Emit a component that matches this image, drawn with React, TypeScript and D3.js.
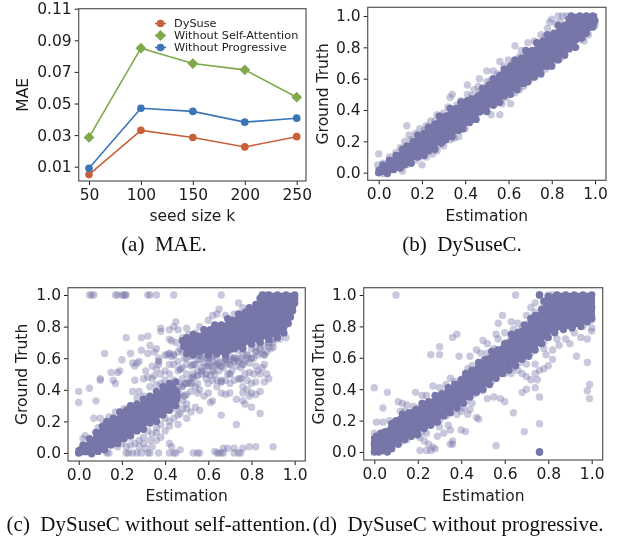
import React, { useEffect, useRef } from "react";
import * as d3 from "d3";

const seedSizes = [50, 100, 150, 200, 250];
const maeTicks = [0.01, 0.03, 0.05, 0.07, 0.09, 0.11];
const dySuse = [0.005, 0.033, 0.0285, 0.0225, 0.029];
const withoutSelfAttention = [0.0285, 0.085, 0.0753, 0.0713, 0.054];
const withoutProgressive = [0.009, 0.047, 0.045, 0.0382, 0.0407];
const unitTicks = [0, 0.2, 0.4, 0.6, 0.8, 1];

// Overplotted cores of the scatters, too dense to read single points: [estimation, low, high]
const coreB = [
  [-0.015, -0.015, 0.03], [0.04, -0.015, 0.07], [0.1, 0.025, 0.14], [0.15, 0.07, 0.2], [0.2, 0.11, 0.26], [0.25, 0.15, 0.32], [0.3, 0.2, 0.37], [0.35, 0.24, 0.42], [0.4, 0.29, 0.46],
  [0.45, 0.35, 0.5], [0.5, 0.4, 0.57], [0.55, 0.45, 0.63], [0.6, 0.5, 0.69], [0.65, 0.54, 0.74], [0.7, 0.59, 0.78], [0.75, 0.64, 0.84], [0.8, 0.69, 0.89], [0.85, 0.74, 0.95], [0.9, 0.8, 1.01], [0.95, 0.87, 1.015], [1.01, 0.94, 1.015],
];
const coreC = [
  [-0.015, -0.015, 0.03], [0.05, -0.015, 0.08], [0.1, 0.01, 0.16], [0.15, 0.04, 0.21], [0.2, 0.07, 0.26], [0.25, 0.12, 0.3], [0.3, 0.16, 0.33], [0.35, 0.2, 0.38], [0.4, 0.24, 0.42], [0.44, 0.28, 0.44], [0.47, 0.33, 0.4],
];
const coreCUpper = [
  [0.47, 0.66, 0.7], [0.52, 0.63, 0.74], [0.6, 0.63, 0.78], [0.65, 0.62, 0.81], [0.7, 0.63, 0.84], [0.75, 0.66, 0.88], [0.8, 0.7, 0.92], [0.84, 0.7, 0.98], [0.86, 0.72, 1.015],
  [0.92, 0.74, 1.015], [0.96, 0.77, 1.015], [1.015, 0.95, 1.015],
];
const coreD = [
  [-0.015, -0.015, 0.1], [0.05, -0.015, 0.14], [0.08, 0.02, 0.19], [0.12, 0.06, 0.24], [0.2, 0.12, 0.29], [0.25, 0.16, 0.33], [0.3, 0.2, 0.37], [0.35, 0.26, 0.42], [0.4, 0.3, 0.47], [0.45, 0.36, 0.53], [0.5, 0.41, 0.59],
  [0.55, 0.46, 0.64], [0.6, 0.51, 0.7], [0.65, 0.56, 0.76], [0.7, 0.6, 0.82], [0.76, 0.68, 0.9], [0.8, 0.74, 0.99], [0.83, 0.77, 1.015], [0.92, 0.79, 1.015], [1.015, 0.84, 1.015],
];

// Stacked points along the rim of each core
const stackB = [
  [0.02, 0.05], [0.05, 0.08], [0.08, 0.11], [0.11, 0.15], [0.13, 0.17], [0.16, 0.2], [0.18, 0.24], [0.21, 0.25], [0.23, 0.29], [0.26, 0.31], [0.28, 0.36], [0.31, 0.36], [0.33, 0.41], [0.36, 0.41], [0.38, 0.45], [0.41, 0.46], [0.43, 0.47], [0.46, 0.49],
  [0.48, 0.54], [0.51, 0.56], [0.53, 0.6], [0.56, 0.62], [0.58, 0.66], [0.61, 0.68], [0.63, 0.72], [0.66, 0.73], [0.68, 0.78], [0.71, 0.78], [0.73, 0.83], [0.76, 0.84], [0.78, 0.88], [0.81, 0.89], [0.83, 0.94], [0.86, 0.94], [0.88, 0.98], [0.91, 0.99],
  [0.04, -0.005], [0.07, 0.02], [0.1, 0.03], [0.12, 0.05], [0.15, 0.06], [0.18, 0.1], [0.21, 0.11], [0.23, 0.14], [0.26, 0.15], [0.29, 0.19], [0.31, 0.21], [0.34, 0.23], [0.37, 0.27], [0.39, 0.28], [0.42, 0.32], [0.45, 0.34], [0.47, 0.39], [0.5, 0.39],
  [0.53, 0.43], [0.56, 0.45], [0.58, 0.49], [0.61, 0.5], [0.64, 0.53], [0.67, 0.57], [0.69, 0.58], [0.72, 0.61], [0.75, 0.63], [0.78, 0.68], [0.8, 0.68], [0.83, 0.72], [0.86, 0.75], [0.88, 0.79], [0.91, 0.8], [0.94, 0.86], [0.96, 0.89], [0.99, 0.93],
  [0, 0], [0.89, 1], [0.93, 1], [0.96, 1], [0.99, 1], [1, 0.97],
];
const stackC = [
  [0.02, 0.05], [0.05, 0.09], [0.08, 0.13], [0.11, 0.17], [0.13, 0.2], [0.16, 0.22], [0.19, 0.26], [0.22, 0.27], [0.24, 0.3], [0.27, 0.31], [0.3, 0.34], [0.33, 0.36], [0.36, 0.39], [0.39, 0.42], [0.42, 0.44], [0.45, 0.45],
  [0.06, -0.005], [0.09, 0.01], [0.12, 0.02], [0.15, 0.05], [0.18, 0.06], [0.21, 0.09], [0.24, 0.11], [0.27, 0.14], [0.3, 0.15], [0.33, 0.19], [0.36, 0.2], [0.39, 0.24], [0.42, 0.27], [0.45, 0.3],
  [0.48, 0.71], [0.5, 0.73], [0.53, 0.75], [0.55, 0.74], [0.58, 0.78], [0.61, 0.78], [0.63, 0.81], [0.66, 0.81], [0.69, 0.85], [0.71, 0.84], [0.74, 0.88], [0.77, 0.89], [0.79, 0.92], [0.82, 0.94], [0.84, 0.98], [0.85, 1],
  [0.5, 0.63], [0.53, 0.62], [0.56, 0.64], [0.6, 0.62], [0.64, 0.63], [0.68, 0.62], [0.72, 0.66], [0.76, 0.66], [0.8, 0.69], [0.84, 0.7], [0.88, 0.72], [0.92, 0.73], [0.95, 0.76], [0.97, 0.82], [0.98, 0.86], [0.99, 0.9], [1, 0.95], [1, 0.98],
  [0, 0], [0.88, 1], [0.92, 1], [0.96, 1], [1, 1],
];
const stackD = [
  [0.01, 0.1], [0.03, 0.12], [0.05, 0.13], [0.08, 0.18], [0.1, 0.2], [0.13, 0.24], [0.16, 0.25], [0.19, 0.27], [0.22, 0.31], [0.25, 0.32], [0.28, 0.36], [0.31, 0.37], [0.34, 0.41], [0.37, 0.43], [0.4, 0.46], [0.42, 0.5], [0.45, 0.52], [0.48, 0.57],
  [0.51, 0.59], [0.54, 0.64], [0.57, 0.65], [0.6, 0.69], [0.63, 0.75], [0.66, 0.76], [0.69, 0.81], [0.72, 0.85], [0.74, 0.87], [0.77, 0.91], [0.78, 0.96], [0.8, 0.99],
  [0.06, 0], [0.08, 0.02], [0.11, 0.05], [0.14, 0.08], [0.17, 0.1], [0.2, 0.11], [0.23, 0.15], [0.26, 0.17], [0.29, 0.19], [0.32, 0.23], [0.35, 0.25], [0.38, 0.28], [0.41, 0.31], [0.44, 0.35], [0.47, 0.38], [0.5, 0.4],
  [0.53, 0.43], [0.56, 0.47], [0.59, 0.5], [0.62, 0.52], [0.65, 0.55], [0.68, 0.59], [0.71, 0.61], [0.74, 0.65], [0.77, 0.69], [0.8, 0.73], [0.83, 0.76], [0.87, 0.78], [0.91, 0.79], [0.95, 0.8], [0.98, 0.83], [1, 0.85],
  [0, 0], [0, 0.05], [0.02, 0], [0.76, 1], [0.76, 0], [0.84, 1], [0.88, 1], [0.92, 1], [0.96, 1], [1, 1], [1, 0.92],
];
// Darker lanes in the middle of (c), partly stacked
const laneC = [
  [0.46, 0.36], [0.48, 0.42], [0.49, 0.36], [0.5, 0.44], [0.52, 0.44], [0.53, 0.48], [0.55, 0.49], [0.57, 0.52], [0.59, 0.5], [0.6, 0.55], [0.62, 0.52], [0.64, 0.56], [0.66, 0.55], [0.68, 0.59], [0.7, 0.56], [0.72, 0.6], [0.74, 0.58], [0.76, 0.56],
  [0.78, 0.62], [0.8, 0.6], [0.82, 0.64], [0.84, 0.66], [0.86, 0.62], [0.88, 0.7], [0.9, 0.72], [0.53, 0.56], [0.56, 0.62], [0.6, 0.6], [0.63, 0.62], [0.47, 0.53], [0.42, 0.63], [0.44, 0.62], [0.37, 0.58], [0.66, 0.45], [0.7, 0.5], [0.75, 0.47],
];

const pointsB = [
  [-0.005, 0.05], [0, 0.12], [0.02, 0.06], [0.05, 0.1], [0.08, 0.13], [0.1, 0.16], [0.12, 0.2], [0.14, 0.24], [0.13, 0.3], [0.17, 0.25], [0.19, 0.28],
  [0.22, 0.3], [0.24, 0.33], [0.27, 0.37], [0.3, 0.38], [0.32, 0.42], [0.33, 0.48], [0.34, 0.5], [0.38, 0.46], [0.41, 0.5], [0.41, 0.56], [0.44, 0.53],
  [0.46, 0.55], [0.465, 0.6], [0.5, 0.58], [0.5, 0.65], [0.53, 0.65], [0.56, 0.71], [0.58, 0.68], [0.6, 0.72], [0.63, 0.81], [0.66, 0.78], [0.69, 0.83],
  [0.72, 0.84], [0.75, 0.88], [0.78, 0.92], [0.79, 0.96], [0.8, 0.98], [0.83, 1], [0.85, 1], [0.87, 1], [0.82, 0.95], [0.02, -0.005], [0.06, 0.02],
  [0.11, 0.01], [0.13, 0.05], [0.17, 0.08], [0.2, 0.05], [0.22, 0.1], [0.25, 0.12], [0.27, 0.14], [0.3, 0.17], [0.3, 0.2], [0.35, 0.22], [0.37, 0.23],
  [0.38, 0.29], [0.42, 0.33], [0.46, 0.38], [0.5, 0.42], [0.52, 0.37], [0.56, 0.37], [0.57, 0.44], [0.61, 0.44], [0.63, 0.51], [0.67, 0.55], [0.7, 0.6],
  [0.73, 0.63], [0.75, 0.68], [0.78, 0.7], [0.82, 0.72], [0.85, 0.77], [0.88, 0.82], [0.95, 0.84], [0.97, 0.88], [1, 0.94], [0.15, 0.21], [0.21, 0.27],
  [0.26, 0.33], [0.29, 0.36], [0.36, 0.43], [0.39, 0.45], [0.43, 0.49], [0.47, 0.52], [0.52, 0.59], [0.55, 0.63], [0.62, 0.7], [0.65, 0.74], [0.68, 0.77],
  [0.74, 0.83], [0.77, 0.87], [0.84, 0.96], [0.15, 0.06], [0.19, 0.1], [0.24, 0.14], [0.28, 0.18], [0.33, 0.21], [0.4, 0.28], [0.44, 0.34], [0.48, 0.4],
  [0.54, 0.44], [0.59, 0.48], [0.65, 0.53], [0.69, 0.58], [0.72, 0.61], [0.77, 0.66], [0.8, 0.69], [0.84, 0.73], [0.9, 0.8], [0.93, 0.85], [0.98, 0.93],
];

const pointsC = [
  [0.05, 1], [0.06, 1], [0.07, 1], [0.17, 1], [0.18, 1], [0.2, 1], [0.21, 1], [0.215, 1], [0.22, 1], [0.32, 1], [0.33, 1], [0.36, 1], [0.44, 1], [0.66, 1],
  [0.13, 0], [0.14, 0], [0.22, 0], [0.23, 0], [0.25, 0], [0.27, 0], [0.29, 0], [0.32, 0], [0.33, 0], [0.37, 0], [0.42, 0], [0.44, 0], [0.45, 0], [0.53, 0],
  [0.55, 0], [0.56, 0], [0.64, 0], [0.65, 0], [0.66, 0], [0.67, 0], [0.72, 0], [0.74, 0], [0.75, 0], [0.42, 0.06], [0.43, 0.04], [0.47, 0.02], [0.63, 0.01],
  [0.67, 0.03], [0.69, 0.03], [0.72, 0.03], [0.76, 0.03], [0.79, 0.04], [0.82, 0.04], [0.9, 0.04], [0, 0.39], [0, 0.32], [0.05, 0.41], [0.08, 0.33], [0.1, 0.46],
  [0.1, 0.47], [0.12, 0.63], [0.15, 0.51], [0.16, 0.46], [0.17, 0.44], [0.18, 0.51], [0.19, 0.52], [0.2, 0.59], [0.22, 0.73], [0.24, 0.63], [0.25, 0.57],
  [0.26, 0.55], [0.26, 0.46], [0.27, 0.57], [0.28, 0.58], [0.29, 0.65], [0.29, 0.73], [0.32, 0.63], [0.32, 0.74], [0.31, 0.52], [0.3, 0.47], [0.33, 0.68],
  [0.35, 0.64], [0.36, 0.66], [0.38, 0.79], [0.38, 0.77], [0.37, 0.6], [0.34, 0.55], [0.35, 0.49], [0.37, 0.56], [0.4, 0.62], [0.41, 0.62], [0.43, 0.61],
  [0.42, 0.72], [0.42, 0.78], [0.44, 0.8], [0.45, 0.83], [0.46, 0.78], [0.43, 0.71], [0.45, 0.7], [0.46, 0.64], [0.47, 0.66], [0.48, 0.73], [0.49, 0.6],
  [0.5, 0.7], [0.51, 0.75], [0.52, 0.68], [0.53, 0.72], [0.54, 0.76], [0.56, 0.8], [0.58, 0.78], [0.6, 0.84], [0.62, 0.87], [0.64, 0.88], [0.65, 0.91],
  [0.68, 0.87], [0.72, 0.88], [0.74, 0.95], [0.76, 0.92], [0.78, 0.9], [0.84, 0.97], [0.86, 1], [0.88, 1], [0.48, 0.47], [0.5, 0.5], [0.52, 0.55], [0.54, 0.56],
  [0.56, 0.59], [0.58, 0.57], [0.6, 0.62], [0.62, 0.58], [0.64, 0.6], [0.66, 0.64], [0.68, 0.6], [0.7, 0.61], [0.72, 0.58], [0.74, 0.65], [0.76, 0.62],
  [0.78, 0.6], [0.8, 0.66], [0.82, 0.67], [0.84, 0.7], [0.86, 0.68], [0.88, 0.74], [0.9, 0.7], [0.52, 0.47], [0.55, 0.44], [0.57, 0.5], [0.59, 0.47], [0.61, 0.49],
  [0.63, 0.5], [0.65, 0.52], [0.67, 0.54], [0.69, 0.5], [0.71, 0.52], [0.73, 0.55], [0.75, 0.54], [0.77, 0.5], [0.79, 0.51], [0.81, 0.5], [0.83, 0.52], [0.85, 0.54],
  [0.87, 0.5], [0.72, 0.46], [0.74, 0.47], [0.76, 0.42], [0.78, 0.4], [0.8, 0.38], [0.82, 0.37], [0.84, 0.39], [0.86, 0.45], [0.88, 0.47], [0.82, 0.45], [0.66, 0.38],
  [0.68, 0.37], [0.7, 0.38], [0.62, 0.33], [0.61, 0.32], [0.58, 0.36], [0.56, 0.4], [0.54, 0.42], [0.73, 0.34], [0.76, 0.33], [0.77, 0.31], [0.8, 0.29], [0.84, 0.25],
  [0.66, 0.24], [0.73, 0.18], [0.5, 0.22], [0.52, 0.26], [0.54, 0.29], [0.56, 0.27], [0.5, 0.31], [0.47, 0.37], [0.45, 0.28], [0.46, 0.24], [0.44, 0.22],
  [0.46, 0.18], [0.42, 0.2], [0.4, 0.22], [0.38, 0.18], [0.36, 0.16], [0.34, 0.12], [0.32, 0.14], [0.3, 0.1], [0.28, 0.08], [0.26, 0.06], [0.24, 0.1], [0.22, 0.04],
  [0.36, 0.08], [0.38, 0.1], [0.4, 0.14], [0.28, 0.16], [0.26, 0.14], [0.2, 0.06], [0.18, 0.04], [0.16, 0.06], [0.12, 0.02], [0.1, 0.22], [0.07, 0.22], [0.09, 0.16],
  [0.12, 0.18], [0.03, 0.11], [0.02, 0.09], [0.14, 0.23], [0.17, 0.26], [0.21, 0.28], [0.23, 0.28], [0.27, 0.35], [0.25, 0.39], [0.28, 0.39], [0.3, 0.36],
  [0.33, 0.42], [0.36, 0.43], [0.38, 0.44], [0.4, 0.46], [0.42, 0.5], [0.44, 0.46], [0.46, 0.52], [0.96, 0.73], [0.93, 0.72], [0.91, 0.76], [0.88, 0.67], [0.7, 0.78],
  [0.6, 0.7], [0.58, 0.73], [0.5, 0.79], [0.48, 0.64], [0.62, 0.67], [0.68, 0.66],
  [0.47, 0.43], [0.49, 0.44], [0.51, 0.45], [0.53, 0.5], [0.55, 0.52], [0.57, 0.54], [0.59, 0.55], [0.61, 0.56], [0.63, 0.55], [0.65, 0.57], [0.67, 0.58], [0.69, 0.57],
  [0.71, 0.59], [0.73, 0.6], [0.75, 0.6], [0.77, 0.58], [0.79, 0.57], [0.81, 0.6], [0.83, 0.62], [0.85, 0.63], [0.87, 0.64], [0.89, 0.66], [0.55, 0.59], [0.57, 0.61],
  [0.59, 0.6], [0.61, 0.6], [0.52, 0.61], [0.54, 0.64], [0.5, 0.6], [0.5, 0.56], [0.48, 0.54], [0.46, 0.58], [0.44, 0.56], [0.42, 0.56], [0.4, 0.52], [0.38, 0.5], [0.36, 0.53],
  [0.34, 0.47], [0.32, 0.48], [0.6, 0.44], [0.62, 0.46], [0.64, 0.46], [0.66, 0.46], [0.68, 0.46], [0.7, 0.44], [0.64, 0.42], [0.6, 0.38], [0.55, 0.38], [0.52, 0.39], [0.5, 0.37],
  [0.48, 0.33], [0.5, 0.28], [0.48, 0.28], [0.47, 0.25], [0.42, 0.17], [0.36, 0.13], [0.33, 0.08], [0.3, 0.06], [0.28, 0.04], [0.24, 0.05], [0.31, 0.03], [0.34, 0.04],
  [0.82, 0.55], [0.84, 0.5], [0.86, 0.56], [0.78, 0.46], [0.8, 0.44], [0.76, 0.38], [0.79, 0.36], [0.9, 0.67], [0.94, 0.76], [0.98, 0.86], [0.99, 0.9],
];

const pointsD = [
  [0.1, 1], [0.65, 1], [0.76, 1], [0.76, 1], [0.76, 1], [0.76, 0], [0.76, 0], [0.76, 0], [0, 0.41], [0.06, 0.38], [0.04, 0.28], [0.01, 0.19], [0.04, 0.19],
  [0.07, 0.2], [0.11, 0.32], [0.12, 0.26], [0.13, 0.31], [0.15, 0.3], [0.19, 0.38], [0.22, 0.36], [0.24, 0.36], [0.27, 0.42], [0.3, 0.41], [0.33, 0.43], [0.35, 0.47],
  [0.26, 0.62], [0.3, 0.62], [0.3, 0.67], [0.36, 0.73], [0.38, 0.75], [0.39, 0.61], [0.44, 0.61], [0.43, 0.53], [0.45, 0.55], [0.47, 0.65], [0.49, 0.63],
  [0.5, 0.71], [0.52, 0.69], [0.55, 0.66], [0.56, 0.75], [0.57, 0.72], [0.57, 0.82], [0.59, 0.87], [0.6, 0.76], [0.63, 0.83], [0.64, 0.78], [0.66, 0.82], [0.66, 0.75],
  [0.7, 0.87], [0.72, 0.92], [0.74, 0.89], [0.78, 0.95], [0.74, 0.95], [0.8, 1], [0.82, 1], [0.84, 1], [0.93, 0.61], [0.98, 0.57], [0.99, 0.43], [0.98, 0.39], [0.99, 0.34],
  [0.9, 0.69], [0.95, 0.73], [0.98, 0.72], [1, 0.77], [1, 0.79], [0.76, 0.35], [0.74, 0.41], [0.7, 0.4], [0.68, 0.38], [0.6, 0.32], [0.64, 0.25], [0.69, 0.13], [0.76, 0.18],
  [0.56, 0.04], [0.58, 0.34], [0.55, 0.35], [0.52, 0.34], [0.5, 0.39], [0.48, 0.42], [0.47, 0.22], [0.48, 0.21], [0.44, 0.27], [0.43, 0.24], [0.41, 0.28], [0.4, 0.14],
  [0.4, 0.26], [0.42, 0.13], [0.36, 0.07], [0.36, 0.05], [0.35, 0.05], [0.34, 0.17], [0.35, 0.14], [0.32, 0.12], [0.3, 0.16], [0.29, 0.1], [0.28, 0.02], [0.27, 0.03],
  [0.26, 0.01], [0.24, 0.01], [0.21, 0.01], [0.25, 0.05], [0.23, 0.07], [0.21, 0.09], [0.24, 0.12], [0.19, 0.14], [0.15, 0.08], [0.13, 0.07], [0.1, 0.09], [0.07, 0.02],
  [0.36, 0.29], [0.38, 0.24], [0.33, 0.23], [0.39, 0.31], [0.45, 0.31], [0.43, 0.36], [0.46, 0.37], [0.49, 0.4], [0.53, 0.43], [0.56, 0.47], [0.6, 0.5], [0.63, 0.5], [0.66, 0.52],
  [0.68, 0.5], [0.7, 0.48], [0.72, 0.46], [0.74, 0.5], [0.75, 0.46], [0.76, 0.52], [0.78, 0.53], [0.8, 0.55], [0.82, 0.59], [0.79, 0.62], [0.74, 0.56], [0.7, 0.56], [0.67, 0.57],
  [0.82, 0.65], [0.85, 0.68], [0.88, 0.72], [0.92, 0.76], [0.96, 0.8], [0.84, 0.72], [0.78, 0.66], [0.4, 0.46], [0.42, 0.48], [0.46, 0.52], [0.5, 0.58], [0.53, 0.6], [0.55, 0.62],
  [0.58, 0.64], [0.61, 0.7], [0.68, 0.79], [0.71, 0.82], [0.75, 0.85], [0.77, 0.88], [0.25, 0.3], [0.2, 0.28], [0.16, 0.24], [0.12, 0.2], [0.08, 0.15], [0, 0.12], [0.02, 0.1],
  [0.18, 0.17], [0.26, 0.2], [0.3, 0.2], [0.34, 0.3], [1, 0.86], [1, 0.84], [0.14, 0.26], [0.18, 0.29], [0.22, 0.31], [0.28, 0.35], [0.32, 0.38], [0.37, 0.45], [0.41, 0.47], [0.44, 0.51],
  [0.48, 0.56], [0.52, 0.63], [0.56, 0.65], [0.6, 0.67], [0.63, 0.73], [0.67, 0.77], [0.72, 0.8], [0.62, 0.55], [0.58, 0.5], [0.54, 0.45], [0.5, 0.43], [0.47, 0.39], [0.42, 0.32],
  [0.38, 0.28], [0.33, 0.25], [0.28, 0.19], [0.22, 0.13], [0.17, 0.1], [0.11, 0.05], [0.78, 0.7], [0.72, 0.63], [0.67, 0.6], [0.64, 0.54], [0.95, 0.82], [0.98, 0.83],
];

const WIDTH = 622;
const HEIGHT = 541;
const FONT = "'DejaVu Sans', sans-serif";
const INK = "#1c1c1c";
const FRAME = "#555";
const SCATTER = "#7776a8";

type Box = { left: number; right: number; top: number; bottom: number };

const drawAxes = (g, x, y, box: Box, xTicks, yTicks, yFormat, xLabel, yLabel, yLabelX, xLabelY) => {
  g.append("g")
    .attr("transform", `translate(0,${box.bottom})`)
    .call(d3.axisBottom(x).tickValues(xTicks).tickSize(4).tickPadding(4).tickFormat(xTicks[0] === 0 ? d3.format(".1f") : d3.format("d")))
    .call(a => a.select(".domain").remove())
    .call(a => a.selectAll(".tick line").attr("stroke", INK))
    .call(a => a.selectAll(".tick text").attr("font-size", 15.5).attr("font-family", FONT).attr("fill", INK));
  g.append("g")
    .attr("transform", `translate(${box.left},0)`)
    .call(d3.axisLeft(y).tickValues(yTicks).tickSize(4).tickPadding(3).tickFormat(d3.format(yFormat)))
    .call(a => a.select(".domain").remove())
    .call(a => a.selectAll(".tick line").attr("stroke", INK))
    .call(a => a.selectAll(".tick text").attr("font-size", 15.5).attr("font-family", FONT).attr("fill", INK));
  g.append("rect")
    .attr("x", box.left)
    .attr("y", box.top)
    .attr("width", box.right - box.left)
    .attr("height", box.bottom - box.top)
    .attr("fill", "none")
    .attr("stroke", FRAME)
    .attr("stroke-width", 1.2);
  g.append("text")
    .attr("x", (box.left + box.right) / 2)
    .attr("y", xLabelY)
    .attr("text-anchor", "middle")
    .attr("font-size", 15.5)
    .attr("font-family", FONT)
    .attr("fill", INK)
    .text(xLabel);
  g.append("text")
    .attr("transform", `translate(${yLabelX},${(box.top + box.bottom) / 2}) rotate(-90)`)
    .attr("text-anchor", "middle")
    .attr("font-size", 15.5)
    .attr("font-family", FONT)
    .attr("fill", INK)
    .text(yLabel);
};

const drawScatter = (svg, box: Box, xZero, xOne, yZero, yOne, cores, stack, lane, points, yLabelX, xLabelY) => {
  const g = svg.append("g");
  const x = d3.scaleLinear().domain([0, 1]).range([xZero, xOne]);
  const y = d3.scaleLinear().domain([0, 1]).range([yZero, yOne]);
  const area = d3
    .area()
    .x(d => x(d[0]))
    .y0(d => y(d[1]))
    .y1(d => y(d[2]));
  g.selectAll("path.core").data(cores).enter().append("path").attr("class", "core").attr("fill", SCATTER).attr("d", d => area(d));
  const dots = (data, opacity, cls) =>
    g
      .selectAll(`circle.${cls}`)
      .data(data)
      .enter()
      .append("circle")
      .attr("class", cls)
      .attr("cx", d => x(d[0]))
      .attr("cy", d => y(d[1]))
      .attr("r", 3.7)
      .attr("fill", SCATTER)
      .attr("fill-opacity", opacity);
  dots(points, 0.4, "single");
  dots(lane, 0.6, "lane");
  dots(stack, 1, "stacked");
  drawAxes(g, x, y, box, unitTicks, unitTicks, ".1f", "Estimation", "Ground Truth", yLabelX, xLabelY);
};

const caption = (svg, cx, y, label, text) => {
  svg
    .append("text")
    .attr("x", cx)
    .attr("y", y)
    .attr("text-anchor", "middle")
    .attr("font-size", 21)
    .attr("font-family", "'Liberation Serif', serif")
    .attr("fill", "#111")
    .text(`${label}\u00a0\u00a0${text}`);
};

const App = () => {
  const svgRef = useRef(null);

  useEffect(() => {
    const svg = d3.select(svgRef.current);
    svg.selectAll("*").remove();

    // (a) MAE lines
    const boxA = { left: 78.7, right: 306, top: 8.7, bottom: 181 };
    const x = d3.scaleLinear().domain([50, 250]).range([89, 296.7]);
    const y = d3.scaleLinear().domain([0.01, 0.11]).range([166.7, 8.7]);
    const line = d3.line().x((d, i) => x(seedSizes[i])).y(d => y(d));
    const series = [
      { name: "DySuse", values: dySuse, color: "#c8603a", symbol: d3.symbolCircle, size: 46, turn: 0 },
      { name: "Without Self-Attention", values: withoutSelfAttention, color: "#7fa94b", symbol: d3.symbolSquare, size: 58, turn: 45 },
      { name: "Without Progressive", values: withoutProgressive, color: "#3a75b5", symbol: d3.symbolCircle, size: 46, turn: 0 },
    ];
    const a = svg.append("g");
    series.forEach((s, k) => {
      a.append("path").attr("d", line(s.values)).attr("fill", "none").attr("stroke", s.color).attr("stroke-width", 1.6);
      a.selectAll(`path.m${k}`)
        .data(s.values)
        .enter()
        .append("path")
        .attr("class", `m${k}`)
        .attr("fill", s.color)
        .attr("transform", (d, i) => `translate(${x(seedSizes[i])},${y(d)}) rotate(${s.turn})`)
        .attr("d", d3.symbol().type(s.symbol).size(s.size)());
      const ly = 23.5 + k * 12;
      a.append("line").attr("x1", 155).attr("x2", 166).attr("y1", ly).attr("y2", ly).attr("stroke", s.color).attr("stroke-width", 1.6);
      a.append("path").attr("transform", `translate(160.5,${ly}) rotate(${s.turn})`).attr("fill", s.color).attr("d", d3.symbol().type(s.symbol).size(s.size)());
      a.append("text").attr("x", 174).attr("y", ly + 3.8).attr("font-size", 11.3).attr("font-family", FONT).attr("fill", INK).text(s.name);
    });
    drawAxes(a, x, y, boxA, seedSizes, maeTicks, ".2f", "seed size k", "MAE", 28, 221);

    drawScatter(svg, { left: 367.7, right: 606, top: 7.3, bottom: 180.3 }, 378.7, 595, 172.7, 16, [coreB], stackB, [], pointsB, 328, 221);
    drawScatter(svg, { left: 68, right: 305.3, top: 287.7, bottom: 461 }, 78.7, 294.7, 453, 295, [coreC, coreCUpper], stackC, laneC, pointsC, 27, 501);
    drawScatter(svg, { left: 363.7, right: 602.7, top: 287.7, bottom: 460 }, 374.3, 591.7, 452, 295, [coreD], stackD, [], pointsD, 324, 501);

    caption(svg, 164, 251, "(a)", "MAE.");
    caption(svg, 462, 251, "(b)", "DySuseC.");
    caption(svg, 158.5, 531, "(c)", "DySuseC without self-attention.");
    caption(svg, 458, 531, "(d)", "DySuseC without progressive.");
  }, []);

  return <svg ref={svgRef} width={WIDTH} height={HEIGHT} style={{ position: "absolute", left: 0, top: 0, filter: "blur(0.35px)" }} />;
};

export default App;
